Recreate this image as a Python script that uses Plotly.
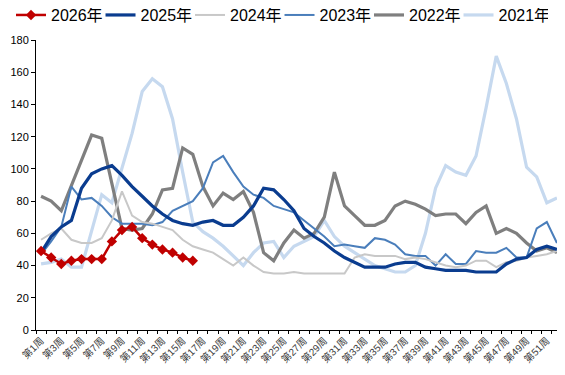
import plotly.graph_objects as go

weeks = list(range(1, 53))
week_labels = ["第%d周" % i for i in weeks]
tick_weeks = weeks[::2]
tick_text = week_labels[::2]

s2026 = [49, 45, 41, 43, 44, 44, 44, 55, 62, 64, 57, 53, 50, 48, 45, 43]
s2025 = [48, 58, 64, 68, 88, 97, 100, 102, 96, 89, 83, 77, 72, 68, 66, 65, 67, 68, 65, 65,
         70, 77, 88, 87, 81, 74, 63, 58, 54, 49, 45, 42, 39, 39, 39, 41, 42, 42, 39, 38,
         37, 37, 37, 36, 36, 36, 41, 44, 45, 50, 52, 50]
s2024 = [56, 60, 63, 56, 54, 54, 57, 68, 86, 71, 67, 66, 64, 62, 56, 52, 50, 48, 44, 40,
         45, 40, 36, 35, 35, 36, 35, 35, 35, 35, 35, 45, 47, 46, 46, 46, 44, 45, 44, 42,
         40, 39, 40, 43, 43, 39, 42, 43, 45, 46, 47, 49]
s2023 = [47, 55, 64, 89, 81, 82, 77, 70, 66, 66, 66, 65, 67, 74, 77, 80, 88, 104, 108, 98,
         89, 84, 82, 77, 75, 73, 68, 63, 58, 52, 53, 52, 51, 57, 56, 53, 47, 46, 46, 40,
         47, 41, 41, 49, 48, 48, 51, 45, 45, 63, 67, 54]
s2022 = [83, 80, 74, 90, 106, 121, 119, 90, 63, 62, 63, 72, 87, 88, 113, 109, 89, 77, 85, 81,
         86, 73, 48, 43, 54, 62, 57, 60, 70, 98, 77, 71, 65, 65, 68, 77, 80, 78, 75, 71,
         72, 72, 66, 73, 77, 60, 63, 60, 54, 49, 51, 48]
s2021 = [41, 42, 44, 39, 39, 62, 84, 79, 100, 122, 148, 156, 151, 131, 98, 67, 61, 57, 52, 46,
         40, 48, 54, 55, 45, 52, 55, 58, 68, 58, 52, 48, 44, 40, 38, 36, 36, 40, 60, 88,
         102, 98, 96, 108, 138, 170, 153, 131, 101, 95, 79, 82]

series = [
    ("2021年", s2021, "#C6D9EF", 3.2),
    ("2022年", s2022, "#7F7F7F", 3.2),
    ("2023年", s2023, "#4A7EBB", 2.0),
    ("2024年", s2024, "#C8C8C8", 2.0),
    ("2025年", s2025, "#0A3C8F", 3.2),
]

fig = go.Figure()
for name, vals, color, w in series:
    fig.add_trace(go.Scatter(x=weeks[:len(vals)], y=vals, name=name, mode="lines",
                             line=dict(color=color, width=w)))
fig.add_trace(go.Scatter(x=weeks[:len(s2026)], y=s2026, name="2026年", mode="lines+markers",
                         line=dict(color="#C00000", width=2.5),
                         marker=dict(symbol="diamond", size=8, color="#C00000")))

font_family = "Liberation Sans, Noto Sans CJK SC, sans-serif"
# the page body adds an 8px offset, so the figure is sized to fit the 565x375 window
fig.update_layout(
    width=557, height=367,
    margin=dict(l=28, r=3, t=32, b=45, autoexpand=False),
    paper_bgcolor="white", plot_bgcolor="white",
    font=dict(family=font_family, color="#000000"),
    legend=dict(orientation="h", traceorder="reversed",
                x=-0.0475, y=1.086, xanchor="left", yanchor="middle",
                font=dict(size=16, family=font_family, color="#000000"),
                entrywidth=44.5, tracegroupgap=0),
    showlegend=True,
)
fig.update_xaxes(range=[0.5, 52.5], tickmode="array", tickvals=tick_weeks, ticktext=tick_text,
                 tickangle=-45, ticks="", showgrid=False, zeroline=False, automargin=False,
                 showline=True, linecolor="#000000", linewidth=1,
                 tickfont=dict(size=10, color="#404040", family=font_family),
                 minor=dict(ticks="outside", tick0=0.5, dtick=1, ticklen=3, tickcolor="#000000",
                            showgrid=False))
fig.update_yaxes(range=[0, 180], tickmode="linear", tick0=0, dtick=20,
                 ticks="outside", ticklen=4, tickcolor="#000000", automargin=False,
                 showgrid=False, zeroline=False,
                 showline=True, linecolor="#000000", linewidth=1,
                 tickfont=dict(size=11, color="#000000", family=font_family))

fig.write_html("out.html")
